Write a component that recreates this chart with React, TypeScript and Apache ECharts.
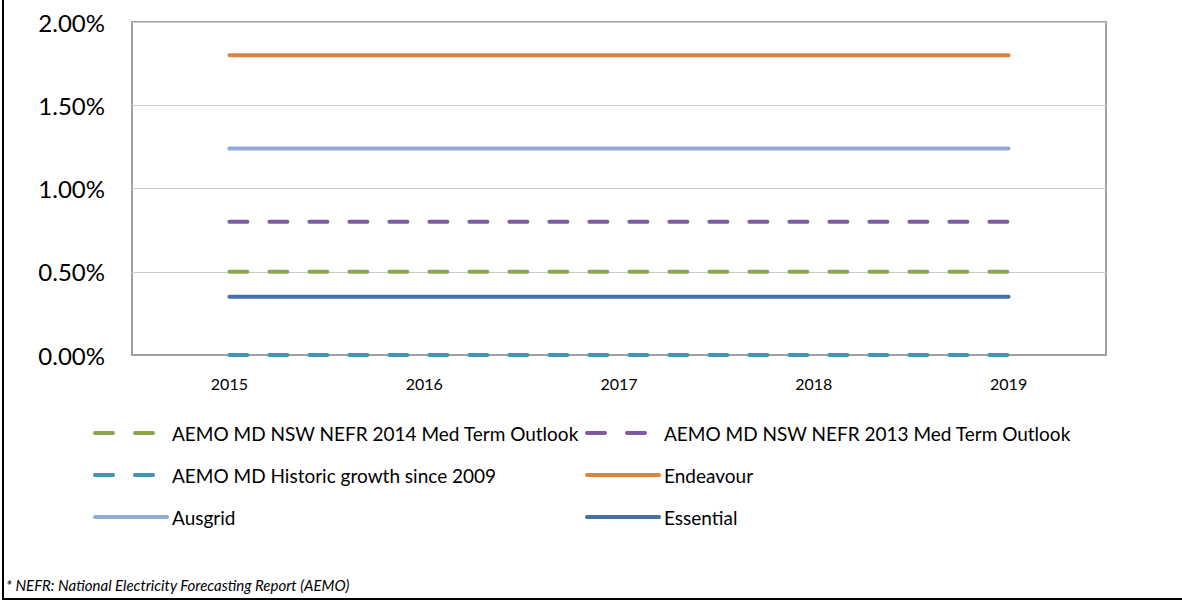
import React, { useEffect, useRef } from "react";
import * as echarts from "echarts";

const years = ["2015", "2016", "2017", "2018", "2019"];
const nefr2014 = [0.5, 0.5, 0.5, 0.5, 0.5];
const nefr2013 = [0.8, 0.8, 0.8, 0.8, 0.8];
const historic = [0, 0, 0, 0, 0];
const endeavour = [1.8, 1.8, 1.8, 1.8, 1.8];
const ausgrid = [1.24, 1.24, 1.24, 1.24, 1.24];
const essential = [0.35, 0.35, 0.35, 0.35, 0.35];

const seriesNames = [
  "AEMO MD NSW NEFR 2014 Med Term Outlook",
  "AEMO MD NSW NEFR 2013 Med Term Outlook",
  "AEMO MD Historic growth since 2009",
  "Endeavour",
  "Ausgrid",
  "Essential",
];
const footnote = "* NEFR: National Electricity Forecasting Report (AEMO)";

const FONT = "Lato, 'Open Sans', sans-serif";

export default function App() {
  const ref = useRef<HTMLDivElement>(null);
  useEffect(() => {
    const chart = echarts.init(ref.current!, null, { renderer: "svg" });
    const mk = (name: string, data: number[], color: string, dashed: boolean) => ({
      name,
      type: "line",
      data,
      symbol: "none",
      color,
      lineStyle: {
        color,
        width: 4,
        cap: "round",
        type: dashed ? [18, 22] : "solid",
      },
    });
    const legendBase = {
      orient: "vertical",
      top: 423,
      padding: 0,
      itemWidth: 72,
      itemHeight: 4,
      itemGap: 22,
      itemStyle: { opacity: 0 },
      lineStyle: { width: 4, cap: "round" },
      textStyle: { color: "#000", fontSize: 19, fontFamily: FONT, lineHeight: 20 },
    };
    chart.setOption({
      animation: false,
      textStyle: { fontFamily: FONT },
      grid: {
        left: 132,
        right: 76,
        top: 22,
        bottom: 246,
        show: true,
        borderColor: "#a0a0a0",
        borderWidth: 2,
        containLabel: false,
      },
      xAxis: {
        type: "category",
        data: years,
        boundaryGap: true,
        axisLine: { show: true, lineStyle: { color: "#a0a0a0", width: 2 } },
        axisTick: { show: false },
        axisLabel: { color: "#000", fontSize: 16, margin: 20, fontFamily: FONT },
        splitLine: { show: false },
      },
      yAxis: {
        type: "value",
        min: 0,
        max: 2,
        interval: 0.5,
        axisLine: { show: false },
        axisTick: { show: false },
        axisLabel: {
          color: "#000",
          fontSize: 24,
          margin: 27,
          fontFamily: FONT,
          formatter: (v: number) => v.toFixed(2) + "%",
        },
        splitLine: { show: true, lineStyle: { color: "#cccccc", width: 1 } },
      },
      legend: [
        { ...legendBase, data: [seriesNames[0], seriesNames[2], seriesNames[4]], left: 93 },
        { ...legendBase, data: [seriesNames[1], seriesNames[3], seriesNames[5]], left: 585 },
      ],
      graphic: [
        {
          type: "polyline",
          shape: { points: [[3, 0], [3, 599], [1182, 599]] },
          style: { stroke: "#000", lineWidth: 2, fill: null },
        },
        {
          type: "text",
          left: 6,
          top: 577,
          style: {
            text: footnote,
            fontFamily: FONT,
            fontStyle: "italic",
            fontSize: 15,
            fill: "#000",
          },
        },
      ],
      series: [
        mk(seriesNames[0], nefr2014, "#8aa84b", true),
        mk(seriesNames[1], nefr2013, "#7b5aa0", true),
        mk(seriesNames[2], historic, "#3f97ae", true),
        mk(seriesNames[3], endeavour, "#e0823a", false),
        mk(seriesNames[4], ausgrid, "#93aad4", false),
        mk(seriesNames[5], essential, "#4470a8", false),
      ],
    });
    return () => chart.dispose();
  }, []);
  return (
    <div
      ref={ref}
      style={{ position: "fixed", left: 0, top: 0, width: 1182, height: 601, background: "#fff" }}
    />
  );
}
